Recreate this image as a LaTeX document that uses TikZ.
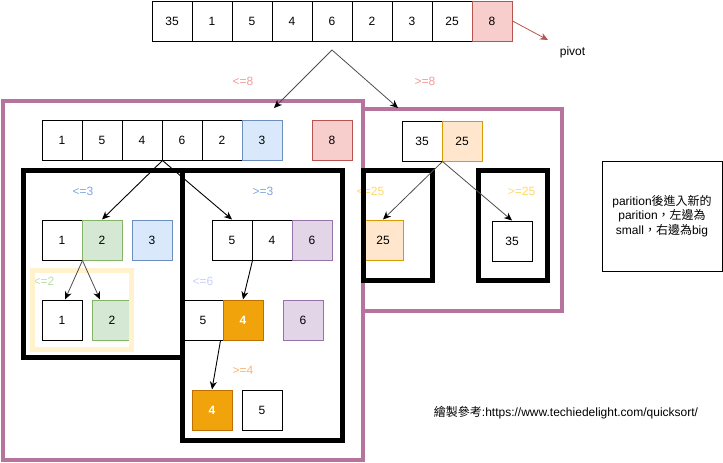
\documentclass[tikz,border=0pt]{standalone}
\usepackage{fontspec}
\setmainfont{Liberation Sans}
\newfontfamily\cjk{Noto Sans CJK TC}
\usetikzlibrary{arrows.meta}
\definecolor{pinkF}{HTML}{F8CECC}\definecolor{pinkD}{HTML}{B85450}
\definecolor{blueF}{HTML}{DAE8FC}\definecolor{blueD}{HTML}{6C8EBF}
\definecolor{greenF}{HTML}{D5E8D4}\definecolor{greenD}{HTML}{82B366}
\definecolor{purF}{HTML}{E1D5E7}\definecolor{purD}{HTML}{9673A6}
\definecolor{orF}{HTML}{F0A30A}\definecolor{orD}{HTML}{BD7000}
\definecolor{lorF}{HTML}{FFE6CC}\definecolor{lorD}{HTML}{D79B00}
\definecolor{frameP}{HTML}{B5739D}
\definecolor{frameY}{HTML}{FFF2CC}
\definecolor{labPink}{HTML}{F19C99}
\definecolor{labBlue}{HTML}{7EA6E0}
\definecolor{labGreen}{HTML}{B9E0A5}
\definecolor{labLav}{HTML}{CCCCFF}
\definecolor{labOr}{HTML}{FFB570}
\definecolor{labYel}{HTML}{FFD966}
\tikzset{
  base/.style={font=\fontsize{12}{14.4}\selectfont, inner sep=0pt},
  cell/.style={base, draw=black, line width=1pt, minimum size=40pt, fill=white},
  pinkc/.style={cell, fill=pinkF, draw=pinkD},
  bluec/.style={cell, fill=blueF, draw=blueD},
  greenc/.style={cell, fill=greenF, draw=greenD},
  purc/.style={cell, fill=purF, draw=purD},
  orc/.style={cell, fill=orF, draw=orD, text=white, font=\fontsize{12}{14.4}\selectfont\bfseries},
  lorc/.style={cell, fill=lorF, draw=lorD},
  lab/.style={base},
  pframe/.style={draw=frameP, line width=4pt},
  bframe/.style={draw=black, line width=5pt},
  yframe/.style={draw=frameY, line width=5pt},
  arr/.style={draw=black, line width=0.9pt, -{Stealth[length=8pt,width=7pt,inset=2.5pt]}},
  garr/.style={draw=black!70, line width=0.8pt, -{Stealth[length=8pt,width=7pt,inset=2.5pt,color=black]}},
  parr/.style={draw=pinkD, line width=0.8pt, -{Stealth[length=8pt,width=7pt,inset=2.5pt]}}
}
\begin{document}
\begin{tikzpicture}[x=1pt,y=-1pt]
\useasboundingbox (0,0) rectangle (723,463);
% top row
\node[cell] (t1) at (172,21) {35};
\node[cell] (t2) at (212,21) {1};
\node[cell] (t3) at (252,21) {5};
\node[cell] (t4) at (292,21) {4};
\node[cell] (t5) at (332,21) {6};
\node[cell] (t6) at (372,21) {2};
\node[cell] (t7) at (412,21) {3};
\node[cell] (t8) at (452,21) {25};
\node[pinkc] (t9) at (492,21) {8};
\node[base] (pivot) at (572.5,52) {pivot};
\coordinate (pvtip) at (548,40);
% labels
\node[lab, text=labPink] (l8a) at (243,81) {<=8};
\node[lab, text=labPink] (l8b) at (425,81) {>=8};
\node[lab, text=labBlue] (l3a) at (83,191) {<=3};
\node[lab, text=labBlue] (l3b) at (263,191) {>=3};
\node[lab, text=labGreen] (l2) at (44,281) {<=2};
\node[lab, text=labLav] (l6) at (203,281) {<=6};
\node[lab, text=labOr] (l4) at (243,370) {>=4};
\node[lab, text=labYel] (l25a) at (370.5,191) {<=25};
\node[lab, text=labYel] (l25b) at (521.5,191) {>=25};
% row 2 left frame
\node[cell] (a1) at (62,140) {1};
\node[cell] (a2) at (102,140) {5};
\node[cell] (a3) at (142,140) {4};
\node[cell] (a4) at (182,140) {6};
\node[cell] (a5) at (222,140) {2};
\node[bluec] (a6) at (262,140) {3};
\node[pinkc] (a8) at (332,140) {8};
% row 3
\node[cell] (b1) at (62,240) {1};
\node[greenc] (b2) at (102,240) {2};
\node[bluec] (b3) at (152,240) {3};
\node[cell] (c1) at (232,240) {5};
\node[cell] (c2) at (272,240) {4};
\node[purc] (c3) at (312,240) {6};
% row 4
\node[cell] (d1) at (62,320) {1};
\node[greenc] (d2) at (112,320) {2};
\node[cell] (e1) at (203,320) {5};
\node[orc] (e2) at (243,320) {4};
\node[purc] (e3) at (303,320) {6};
% row 5
\node[orc] (f1) at (212,410) {4};
\node[cell] (f2) at (262,410) {5};
% right frame
\node[cell] (g1) at (422,141) {35};
\node[lorc] (g2) at (462,141) {25};
\node[lorc] (h1) at (383,240) {25};
\node[cell] (h2) at (512,241) {35};
% frames
\draw[pframe] (363,108.5) rectangle (561.5,310.5);
\draw[pframe] (3,101) rectangle (363,460);
\draw[bframe] (23,170.5) rectangle (182.5,357.5);
\draw[bframe] (182.5,170.5) rectangle (342.5,440.5);
\draw[bframe] (363,170.5) rectangle (432.5,280.5);
\draw[bframe] (478,170.5) rectangle (547,280.5);
\draw[yframe] (32.5,270.5) rectangle (131.5,349.5);
% note and reference
\node[base, draw=black, line width=1pt, minimum width=120pt, minimum height=110pt, align=center] (note) at (662,216)
  {parition{\cjk 後進入新的}\\parition{\cjk ，左邊為}\\small{\cjk ，右邊為}big};
\node[base] (ref) at (566,413) {{\cjk 繪製參考}:https://www.techiedelight.com/quicksort/};
% connectors
\coordinate (s0) at (332,50);
\coordinate (e8L) at (274,108);
\coordinate (e8R) at (398,108);
\draw[parr] (t9.east) -- (pvtip);
\draw[garr] (s0) -- (e8L);
\draw[garr] (s0) -- (e8R);
\draw[arr] (a3.south east) -- (b2.north);
\draw[arr] (a3.south east) -- (c1.north);
\draw[garr] (b1.south east) -- ([xshift=3pt]d1.north);
\draw[garr] (b1.south east) -- ([xshift=-12pt]d2.north);
\draw[arr] (c1.south east) -- (e2.north);
\draw[arr] ([xshift=-3pt]e1.south east) -- (f1.north);
\draw[garr] (g1.south east) -- (h1.north);
\draw[garr] (g1.south east) -- (h2.north);
\end{tikzpicture}
\end{document}
